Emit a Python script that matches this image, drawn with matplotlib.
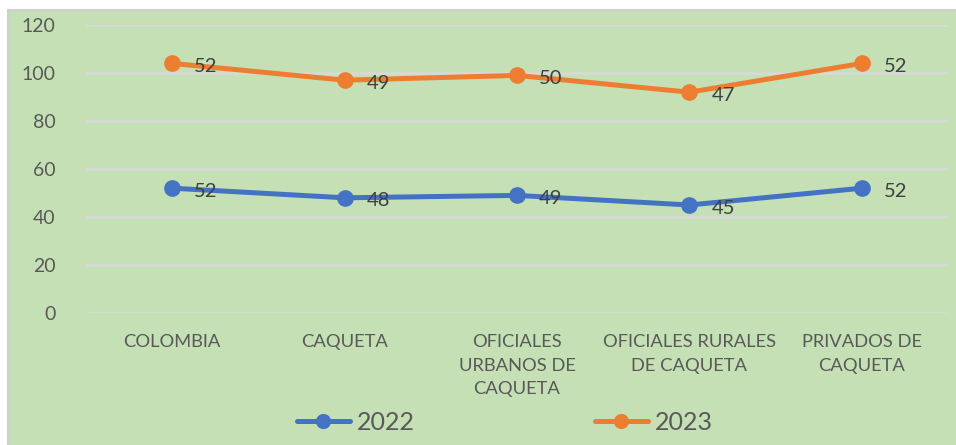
import numpy as np
import matplotlib.pyplot as plt
from matplotlib.patches import Rectangle

# categories and values (2023 is stacked on top of 2022)
categorias = ["COLOMBIA", "CAQUETA", "OFICIALES\nURBANOS DE\nCAQUETA",
              "OFICIALES RURALES\nDE CAQUETA", "PRIVADOS DE\nCAQUETA"]
valores_2022 = [52, 48, 49, 45, 52]
valores_2023 = [52, 49, 50, 47, 52]
y_ticks = [0, 20, 40, 60, 80, 100, 120]

azul = "#4472C4"
naranja = "#ED7D31"
fondo = "#C5E0B4"
gris = "#595959"

plt.rcParams['font.family'] = ['Lato', 'DejaVu Sans']

fig = plt.figure(figsize=(9.56, 4.45), dpi=100)
fig.patch.set_facecolor("white")
# green chart area with thin gray border
fig.patches.append(Rectangle((8 / 956, -0.01), 1.0, 1 - 10 / 445 + 0.01,
                             transform=fig.transFigure, facecolor=fondo,
                             edgecolor="#D0D0D0", linewidth=1.5, zorder=-10))

ax = fig.add_axes([86 / 956, 1 - 313 / 445, 862 / 956, 288 / 445])
ax.set_facecolor("none")

x = np.arange(len(categorias))
apilado = np.array(valores_2022) + np.array(valores_2023)

ax.plot(x, valores_2022, color=azul, lw=3.6, marker="o", ms=11, label="2022",
        solid_capstyle="round", zorder=3)
ax.plot(x, apilado, color=naranja, lw=3.6, marker="o", ms=11, label="2023",
        solid_capstyle="round", zorder=3)

for xi, yi, v in zip(x, valores_2022, valores_2022):
    ax.annotate(str(v), (xi, yi), xytext=(22, -3), textcoords="offset pixels",
                ha="left", va="center", fontsize=14.5, color="#404040", zorder=4)
for xi, yi, v in zip(x, apilado, valores_2023):
    ax.annotate(str(v), (xi, yi), xytext=(22, -3), textcoords="offset pixels",
                ha="left", va="center", fontsize=14.5, color="#404040", zorder=4)

ax.set_xlim(-0.5, len(categorias) - 0.5)
ax.set_ylim(0, 120)
ax.set_yticks(y_ticks)
ax.set_xticks(x)
ax.set_xticklabels(categorias, fontsize=13.2, color=gris, linespacing=1.6)
ax.tick_params(axis="y", labelsize=14, labelcolor=gris, length=0, pad=22)
ax.tick_params(axis="x", length=0, pad=15)
ax.grid(axis="y", color="#D9D9D9", lw=1.8)
ax.set_axisbelow(True)
for s in ax.spines.values():
    s.set_visible(False)

fig.legend(loc="center", bbox_to_anchor=(505 / 956, 1 - 422 / 445), ncol=2,
           frameon=False, fontsize=18, labelcolor=gris, handlelength=2.1,
           columnspacing=7.2, handletextpad=0.3, markerscale=0.9)

fig.savefig("out.png", dpi=100, facecolor=fig.get_facecolor())
